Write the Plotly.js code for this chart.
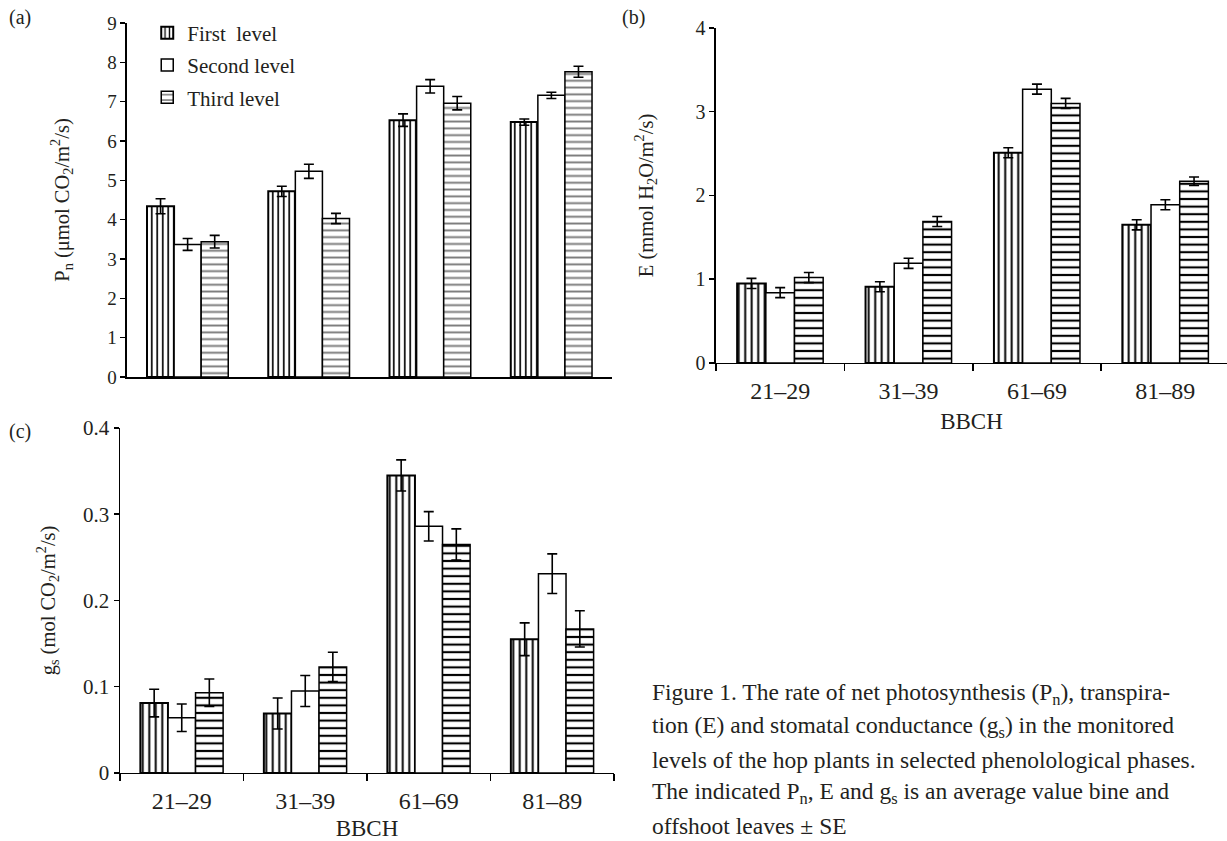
<!DOCTYPE html>
<html>
<head>
<meta charset="utf-8">
<script src="https://cdn.plot.ly/plotly-3.0.1.min.js"></script>
<style>html,body{margin:0;padding:0;background:#fff;}#chart{width:1227px;height:841px;}</style>
</head>
<body>
<div id="chart"></div>
<script>
// ---- data ----
const categories = ['21–29', '31–39', '61–69', '81–89'];
const levelNames = ['First  level', 'Second level', 'Third level'];

// (a) net photosynthesis Pn
const pnFirst = [4.34, 4.72, 6.53, 6.48];
const pnFirstSE = [0.19, 0.13, 0.16, 0.08];
const pnSecond = [3.37, 5.23, 7.39, 7.16];
const pnSecondSE = [0.15, 0.18, 0.17, 0.08];
const pnThird = [3.44, 4.03, 6.96, 7.76];
const pnThirdSE = [0.16, 0.13, 0.17, 0.14];

// (b) transpiration E
const eFirst = [0.95, 0.91, 2.51, 1.65];
const eFirstSE = [0.06, 0.06, 0.06, 0.06];
const eSecond = [0.84, 1.19, 3.27, 1.89];
const eSecondSE = [0.06, 0.06, 0.06, 0.06];
const eThird = [1.02, 1.69, 3.10, 2.17];
const eThirdSE = [0.06, 0.06, 0.06, 0.05];

// (c) stomatal conductance gs
const gsFirst = [0.081, 0.069, 0.345, 0.155];
const gsFirstSE = [0.016, 0.018, 0.018, 0.019];
const gsSecond = [0.064, 0.095, 0.286, 0.231];
const gsSecondSE = [0.016, 0.018, 0.017, 0.023];
const gsThird = [0.093, 0.123, 0.265, 0.167];
const gsThirdSE = [0.016, 0.017, 0.018, 0.021];

// caption lines
const captionLines = [
  'Figure 1. The rate of net photosynthesis (P<sub>n</sub>), transpira-',
  'tion (E) and stomatal conductance (g<sub>s</sub>) in the monitored',
  'levels of the hop plants in selected phenolological phases.',
  'The indicated P<sub>n</sub>, E and g<sub>s</sub> is an average value bine and',
  'offshoot leaves ± SE'
];

// ---- styling ----
const FONT = 'Liberation Serif, Times New Roman, serif';
const TXT = '#231f20';

function pattern(level, panel) {
  if (level === 0) return {shape: '|', size: panel === 'a' ? 5.5 : 6.5, solidity: 0.3, fgcolor: '#000', bgcolor: '#fff', fgopacity: 1};
  if (level === 1) return {shape: '', bgcolor: '#fff'};
  return {shape: '-', size: panel === 'a' ? 6.8 : 7.6, solidity: 0.28, fgcolor: panel === 'a' ? '#7a7a7a' : '#000', bgcolor: '#fff', fgopacity: 1};
}

function barTrace(y, se, level, panel, xa, ya) {
  return {
    type: 'bar',
    x: categories,
    y: y,
    name: levelNames[level],
    legendgroup: 'g' + level,
    showlegend: panel === 'a',
    xaxis: xa, yaxis: ya,
    marker: {color: '#fff', line: {color: '#000', width: level === 0 ? 2 : 1.5}, pattern: pattern(level, panel)},
    error_y: {type: 'data', array: se, visible: true, color: '#000', thickness: 1.6, width: 5}
  };
}

const data = [
  barTrace(pnFirst, pnFirstSE, 0, 'a', 'x', 'y'),
  barTrace(pnSecond, pnSecondSE, 1, 'a', 'x', 'y'),
  barTrace(pnThird, pnThirdSE, 2, 'a', 'x', 'y'),
  barTrace(eFirst, eFirstSE, 0, 'b', 'x2', 'y2'),
  barTrace(eSecond, eSecondSE, 1, 'b', 'x2', 'y2'),
  barTrace(eThird, eThirdSE, 2, 'b', 'x2', 'y2'),
  barTrace(gsFirst, gsFirstSE, 0, 'c', 'x3', 'y3'),
  barTrace(gsSecond, gsSecondSE, 1, 'c', 'x3', 'y3'),
  barTrace(gsThird, gsThirdSE, 2, 'c', 'x3', 'y3')
];

const titleFont = {family: FONT, size: 20.5, color: TXT};

function yAxis(domainY, range, dtick, title, anchor, tickSize, standoff) {
  return {
    domain: domainY, range: range, dtick: dtick, tick0: 0, anchor: anchor,
    showline: true, linecolor: '#000', linewidth: 1.5, ticks: 'outside', ticklen: 5, tickwidth: 1.5, tickcolor: '#000',
    showgrid: false, zeroline: false, tickfont: {family: FONT, size: tickSize, color: TXT},
    title: {text: title, font: titleFont, standoff: standoff}
  };
}

function xAxis(domainX, range, anchor, showLabels, title) {
  return {
    domain: domainX, range: range, anchor: anchor, type: 'category',
    showline: true, linecolor: '#000', linewidth: 1.5,
    ticks: showLabels ? 'outside' : '', tickson: 'boundaries', ticklen: 7, tickwidth: 1.5, tickcolor: '#000',
    showticklabels: showLabels, showgrid: false, zeroline: false, ticklabelstandoff: 6,
    tickfont: {family: FONT, size: 24, color: TXT},
    title: {text: title, font: {family: FONT, size: 23, color: TXT}, standoff: 9}
  };
}

const capFont = {family: FONT, size: 23.5, color: TXT};
const capY = [694, 727, 760, 793, 826];
const annotations = [
  {text: '(a)', xref: 'paper', yref: 'paper', x: 0.006, y: 0.995, xanchor: 'left', yanchor: 'top', showarrow: false, font: {family: FONT, size: 20, color: TXT}},
  {text: '(b)', xref: 'paper', yref: 'paper', x: 0.505, y: 0.995, xanchor: 'left', yanchor: 'top', showarrow: false, font: {family: FONT, size: 20, color: TXT}},
  {text: '(c)', xref: 'paper', yref: 'paper', x: 0.006, y: 0.503, xanchor: 'left', yanchor: 'top', showarrow: false, font: {family: FONT, size: 20, color: TXT}}
];
captionLines.forEach(function (t, i) {
  annotations.push({text: t, xref: 'paper', yref: 'paper', x: 0.5297, y: 1 - capY[i] / 841,
    xanchor: 'left', yanchor: 'middle', showarrow: false, align: 'left', font: capFont});
});

const layout = {
  width: 1227, height: 841,
  margin: {l: 0, r: 0, t: 0, b: 0},
  paper_bgcolor: '#fff', plot_bgcolor: 'rgba(0,0,0,0)',
  barmode: 'group', bargap: 0.33, bargroupgap: 0,
  font: {family: FONT, color: TXT, size: 20},
  showlegend: true,
  legend: {x: 0.12, y: 0.985, xanchor: 'left', yanchor: 'top', bgcolor: 'rgba(0,0,0,0)',
           font: {family: FONT, size: 21, color: TXT}, traceorder: 'grouped', tracegroupgap: 2, itemwidth: 30},
  xaxis: xAxis([0.1035, 0.4988], [-0.5, 3.5], 'y', false, ''),
  yaxis: yAxis([0.5517, 0.9727], [0, 9], 1, 'P<sub>n</sub> (μmol CO<sub>2</sub>/m<sup>2</sup>/s)', 'x', 19, 32),
  xaxis2: xAxis([0.5835, 1.0], [-0.5, 3.48], 'y2', true, 'BBCH'),
  yaxis2: yAxis([0.5684, 0.9667], [0, 4], 1, 'E (mmol H<sub>2</sub>O/m<sup>2</sup>/s)', 'x2', 20, 36),
  xaxis3: xAxis([0.0978, 0.5004], [-0.5, 3.5], 'y3', true, 'BBCH'),
  yaxis3: yAxis([0.0809, 0.4911], [0, 0.4], 0.1, 'g<sub>s</sub> (mol CO<sub>2</sub>/m<sup>2</sup>/s)', 'x3', 21, 22),
  annotations: annotations
};

Plotly.newPlot('chart', data, layout, {staticPlot: true, displayModeBar: false});
</script>
</body>
</html>
